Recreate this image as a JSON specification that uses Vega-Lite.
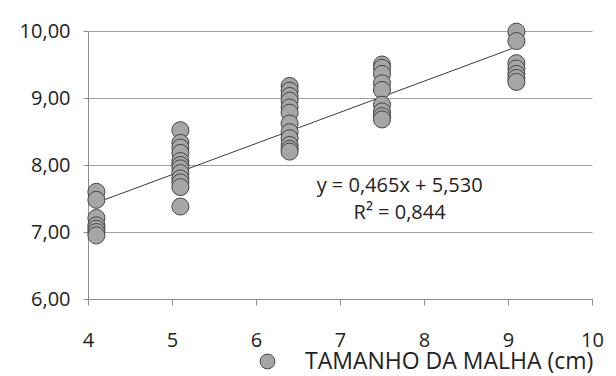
{
  "$schema": "https://vega.github.io/schema/vega-lite/v6.json",
  "autosize": "none",
  "width": 504,
  "height": 268,
  "padding": {"left": 88, "top": 31, "right": 24, "bottom": 77},
  "background": "white",
  "config": {
    "view": {"stroke": null},
    "font": "Open Sans"
  },
  "datasets": {
    "pts": [
      {"tamanho": 4.1, "valor": 7.6}, {"tamanho": 4.1, "valor": 7.48}, {"tamanho": 4.1, "valor": 7.21},
      {"tamanho": 4.1, "valor": 7.1}, {"tamanho": 4.1, "valor": 7.05}, {"tamanho": 4.1, "valor": 7.0}, {"tamanho": 4.1, "valor": 6.95},
      {"tamanho": 5.1, "valor": 8.52}, {"tamanho": 5.1, "valor": 8.33}, {"tamanho": 5.1, "valor": 8.26}, {"tamanho": 5.1, "valor": 8.18},
      {"tamanho": 5.1, "valor": 8.06}, {"tamanho": 5.1, "valor": 8.0}, {"tamanho": 5.1, "valor": 7.95}, {"tamanho": 5.1, "valor": 7.88},
      {"tamanho": 5.1, "valor": 7.8}, {"tamanho": 5.1, "valor": 7.74}, {"tamanho": 5.1, "valor": 7.67}, {"tamanho": 5.1, "valor": 7.38},
      {"tamanho": 6.4, "valor": 9.18}, {"tamanho": 6.4, "valor": 9.11}, {"tamanho": 6.4, "valor": 9.03}, {"tamanho": 6.4, "valor": 8.96},
      {"tamanho": 6.4, "valor": 8.86}, {"tamanho": 6.4, "valor": 8.78}, {"tamanho": 6.4, "valor": 8.62}, {"tamanho": 6.4, "valor": 8.49},
      {"tamanho": 6.4, "valor": 8.4}, {"tamanho": 6.4, "valor": 8.3}, {"tamanho": 6.4, "valor": 8.24}, {"tamanho": 6.4, "valor": 8.2},
      {"tamanho": 7.5, "valor": 9.5}, {"tamanho": 7.5, "valor": 9.45}, {"tamanho": 7.5, "valor": 9.36}, {"tamanho": 7.5, "valor": 9.22},
      {"tamanho": 7.5, "valor": 9.12}, {"tamanho": 7.5, "valor": 8.9}, {"tamanho": 7.5, "valor": 8.8}, {"tamanho": 7.5, "valor": 8.73},
      {"tamanho": 7.5, "valor": 8.68},
      {"tamanho": 9.1, "valor": 9.99}, {"tamanho": 9.1, "valor": 9.85}, {"tamanho": 9.1, "valor": 9.52}, {"tamanho": 9.1, "valor": 9.44},
      {"tamanho": 9.1, "valor": 9.36}, {"tamanho": 9.1, "valor": 9.3}, {"tamanho": 9.1, "valor": 9.24}
    ],
    "linha": [
      {"tamanho": 4.1, "valor": 7.437},
      {"tamanho": 9.1, "valor": 9.762}
    ],
    "rotulo": [
      {"tamanho": 7.71, "valor": 7.69, "texto": "y = 0,465x + 5,530"},
      {"tamanho": 7.71, "valor": 7.29, "texto": "R² = 0,844"}
    ]
  },
  "layer": [
    {
      "data": {"name": "linha"},
      "mark": {"type": "line", "color": "#3a3a3a", "strokeWidth": 1},
      "encoding": {
        "x": {"field": "tamanho", "type": "quantitative", "scale": {"domain": [4, 10], "nice": false},
          "axis": {"values": [4, 5, 6, 7, 8, 9, 10], "format": "d", "grid": false, "domain": true, "domainColor": "#8c8c8c", "tickColor": "#8c8c8c", "tickSize": 6,
            "labelFontSize": 20, "labelColor": "#222", "labelPadding": 25, "title": null, "labelFlush": false}},
        "y": {"field": "valor", "type": "quantitative", "scale": {"domain": [6, 10], "nice": false, "zero": false},
          "axis": {"values": [6, 7, 8, 9, 10], "grid": true, "gridColor": "#a0a0a0", "gridWidth": 1, "domain": true, "domainColor": "#8c8c8c",
            "tickColor": "#8c8c8c", "tickSize": 5, "labelFontSize": 20, "labelColor": "#222", "labelPadding": 13, "title": null,
            "labelExpr": "replace(format(datum.value, '.2f'), '.', ',')"}}
      }
    },
    {
      "data": {"name": "pts"},
      "mark": {"type": "point", "shape": "circle", "filled": true, "size": 290, "opacity": 1, "stroke": "#444444", "strokeWidth": 1},
      "encoding": {
        "x": {"field": "tamanho", "type": "quantitative"},
        "y": {"field": "valor", "type": "quantitative"},
        "color": {"datum": "TAMANHO DA MALHA (cm)", "type": "nominal", "scale": {"range": ["#a6a6a6"]},
          "legend": {"title": null, "orient": "none", "legendX": 168, "legendY": 319, "symbolType": "circle", "symbolSize": 220,
            "symbolStrokeColor": "#444444", "symbolStrokeWidth": 1, "labelFontSize": 23, "labelColor": "#222", "labelOffset": 26, "labelLimit": 0}}
      }
    },
    {
      "data": {"name": "rotulo"},
      "mark": {"type": "text", "fontSize": 20, "color": "#222", "align": "center", "baseline": "middle"},
      "encoding": {
        "x": {"field": "tamanho", "type": "quantitative"},
        "y": {"field": "valor", "type": "quantitative"},
        "text": {"field": "texto"}
      }
    }
  ]
}
